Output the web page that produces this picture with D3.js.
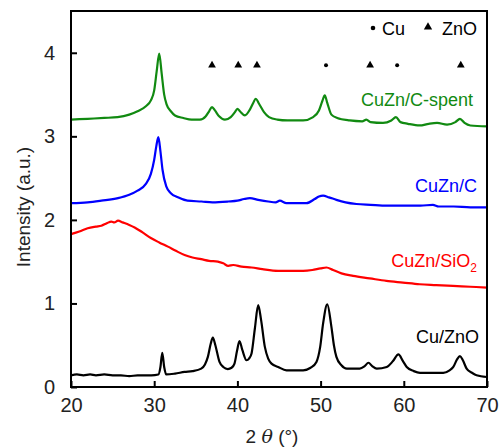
<!DOCTYPE html>
<html>
<head>
<meta charset="utf-8">
<script src="https://cdn.jsdelivr.net/npm/d3@7"></script>
<style>
  body { margin: 0; background: #fff; }
  svg text { font-family: "Liberation Sans", Arial, Helvetica, sans-serif; }
  .tick-label { font-size: 20px; fill: #222; }
  .series-label { font-size: 18px; }
</style>
</head>
<body>
<svg id="chart"></svg>
<script>
// CuZn/C-spent
const spentX = [20, 22, 24, 25.6, 27, 28, 29, 29.6, 30.0, 30.3, 30.6, 30.9, 31.2, 31.5, 32, 32.5, 33.5, 34.5, 35.5, 36.2, 36.6, 36.95, 37.3, 37.8, 38.5, 39.2, 39.7, 40.0, 40.3, 40.9, 41.5, 41.9, 42.2, 42.6, 43.2, 43.8, 44.8, 46, 47.9, 49.1, 49.8, 50.2, 50.5, 50.8, 51.3, 52, 53.5, 55.0, 55.5, 56.0, 57.5, 58.5, 59.05, 59.6, 60.5, 61.9, 63, 64, 65.2, 66.2, 66.75, 67.3, 68, 70];
const spentY = [3.20, 3.21, 3.22, 3.23, 3.26, 3.30, 3.36, 3.43, 3.55, 3.78, 3.99, 3.75, 3.50, 3.38, 3.30, 3.25, 3.22, 3.20, 3.20, 3.24, 3.30, 3.35, 3.31, 3.24, 3.20, 3.23, 3.29, 3.33, 3.30, 3.25, 3.32, 3.40, 3.45, 3.39, 3.29, 3.23, 3.20, 3.19, 3.19, 3.23, 3.31, 3.42, 3.49, 3.40, 3.26, 3.22, 3.19, 3.18, 3.20, 3.17, 3.16, 3.19, 3.23, 3.17, 3.15, 3.13, 3.15, 3.16, 3.14, 3.17, 3.21, 3.16, 3.13, 3.12];

// CuZn/C
const carbonX = [20, 22, 23.65, 25.65, 27, 28, 29, 29.6, 30.0, 30.25, 30.5, 30.75, 31.0, 31.45, 32, 32.85, 34, 35.7, 37, 38.9, 40, 40.8, 41.5, 42.5, 43.7, 44.6, 45.1, 45.9, 47, 48.3, 49.3, 49.8, 50.3, 51, 51.9, 53, 54.3, 56, 58, 60, 62, 63.5, 64.2, 66, 68, 70];
const carbonY = [2.20, 2.21, 2.23, 2.26, 2.30, 2.35, 2.43, 2.55, 2.72, 2.88, 2.99, 2.82, 2.60, 2.40, 2.32, 2.27, 2.23, 2.22, 2.21, 2.22, 2.23, 2.25, 2.26, 2.24, 2.22, 2.21, 2.23, 2.20, 2.20, 2.20, 2.25, 2.28, 2.29, 2.27, 2.24, 2.21, 2.19, 2.18, 2.17, 2.17, 2.17, 2.18, 2.16, 2.16, 2.15, 2.15];

// CuZn/SiO2
const silicaX = [20, 21, 22, 23, 23.65, 24.3, 24.85, 25.2, 25.65, 26.2, 27, 27.65, 28.6, 29.65, 30.6, 31.65, 32.6, 33.65, 34.6, 35.65, 36.6, 37.65, 38.3, 38.9, 39.5, 40.5, 41.7, 43, 44.9, 46, 47.9, 49, 50, 50.7, 51.5, 52.5, 53.9, 55.9, 57.9, 59.9, 61.9, 63.9, 65.9, 68, 70];
const silicaY = [1.83, 1.86, 1.90, 1.92, 1.93, 1.96, 1.98, 1.97, 1.99, 1.97, 1.94, 1.91, 1.85, 1.78, 1.73, 1.68, 1.63, 1.58, 1.55, 1.53, 1.51, 1.50, 1.48, 1.45, 1.46, 1.44, 1.43, 1.41, 1.39, 1.39, 1.39, 1.40, 1.42, 1.43, 1.40, 1.36, 1.33, 1.30, 1.27, 1.25, 1.23, 1.22, 1.21, 1.20, 1.19];

// Cu/ZnO
const cuznoX = [20, 20.7, 21.5, 22.3, 23, 24, 25, 26, 27, 28, 29, 29.65, 30.5, 30.75, 30.97, 31.2, 31.45, 32.5, 33.65, 34.6, 35.65, 36.1, 36.45, 36.8, 37.05, 37.35, 37.85, 38.3, 38.85, 39.3, 39.65, 39.95, 40.25, 40.6, 41.1, 41.4, 41.7, 42.1, 42.5, 42.85, 43.3, 43.7, 44.1, 44.9, 45.9, 47, 47.9, 48.8, 49.5, 49.95, 50.3, 50.8, 51.3, 51.6, 51.9, 52.5, 53.15, 54.7, 55.3, 55.75, 56.2, 56.75, 57.95, 58.7, 59.35, 59.9, 60.35, 61.2, 61.95, 63.5, 64.75, 65.5, 65.95, 66.4, 66.75, 67.1, 67.55, 68.2, 68.75, 70];
const cuznoY = [0.14, 0.15, 0.14, 0.15, 0.14, 0.15, 0.14, 0.14, 0.13, 0.14, 0.14, 0.14, 0.15, 0.24, 0.41, 0.24, 0.15, 0.16, 0.18, 0.19, 0.22, 0.27, 0.36, 0.52, 0.59, 0.50, 0.30, 0.24, 0.215, 0.23, 0.28, 0.43, 0.55, 0.44, 0.32, 0.34, 0.40, 0.70, 0.98, 0.80, 0.48, 0.34, 0.28, 0.24, 0.20, 0.20, 0.20, 0.23, 0.30, 0.48, 0.76, 0.99, 0.72, 0.50, 0.36, 0.26, 0.22, 0.22, 0.25, 0.29, 0.25, 0.22, 0.24, 0.31, 0.39, 0.31, 0.24, 0.19, 0.17, 0.17, 0.17, 0.20, 0.24, 0.33, 0.37, 0.32, 0.22, 0.17, 0.14, 0.12];

// phase markers
const cuPeaks = [50.65, 59.2];
const znoPeaks = [36.95, 40.1, 42.35, 55.95, 66.85];
const markerLevel = 3.85;

const xTicks = [20, 30, 40, 50, 60, 70];
const yTicks = [0, 1, 2, 3, 4];

const series = [
    { name: "CuZn/C-spent", xs: spentX, ys: spentY, color: "#118a11", label: [473, 106] },
    { name: "CuZn/C", xs: carbonX, ys: carbonY, color: "#0000ff", label: [477, 192] },
    { name: "CuZn/SiO2", xs: silicaX, ys: silicaY, color: "#ff0000", label: [477, 267] },
    { name: "Cu/ZnO", xs: cuznoX, ys: cuznoY, color: "#000000", label: [479, 343] }
];

const W = 499, H = 447;
const margin = { top: 11, right: 12, bottom: 60, left: 71 };
const width = W - margin.left - margin.right;
const height = H - margin.top - margin.bottom;

const svg = d3.select("#chart").attr("width", W).attr("height", H);
const g = svg.append("g").attr("transform", `translate(${margin.left},${margin.top})`);

const x = d3.scaleLinear().domain([20, 70]).range([0, width]);
const y = d3.scaleLinear().domain([0, 4.5]).range([height, 0]);

const line = d3.line()
    .x(d => x(d[0]))
    .y(d => y(d[1]))
    .curve(d3.curveMonotoneX);

// curves
series.forEach(s => {
    g.append("path")
        .datum(d3.zip(s.xs, s.ys))
        .attr("fill", "none")
        .attr("stroke", s.color)
        .attr("stroke-width", 2.2)
        .attr("stroke-linejoin", "round")
        .attr("d", line);
});

// series labels
series.forEach(s => {
    const t = svg.append("text")
        .attr("class", "series-label")
        .attr("x", s.label[0])
        .attr("y", s.label[1])
        .attr("text-anchor", "end")
        .attr("fill", s.color);
    if (s.name === "CuZn/SiO2") {
        t.append("tspan").text("CuZn/SiO");
        t.append("tspan").attr("font-size", "12px").attr("dy", 5).text("2");
    } else {
        t.text(s.name);
    }
});

// markers
const tri = d3.symbol().type(d3.symbolTriangle).size(26);
g.selectAll(".zno")
    .data(znoPeaks)
    .join("path")
    .attr("transform", d => `translate(${x(d)},${y(markerLevel)})`)
    .attr("d", tri)
    .attr("fill", "#000");
g.selectAll(".cu")
    .data(cuPeaks)
    .join("circle")
    .attr("cx", d => x(d))
    .attr("cy", y(markerLevel))
    .attr("r", 2)
    .attr("fill", "#000");

// legend
svg.append("circle").attr("cx", 373).attr("cy", 28).attr("r", 2.3).attr("fill", "#000");
svg.append("text").attr("class", "series-label").attr("x", 382).attr("y", 35).attr("fill", "#000").text("Cu");
svg.append("path").attr("transform", "translate(428,27)").attr("d", d3.symbol().type(d3.symbolTriangle).size(30)).attr("fill", "#000");
svg.append("text").attr("class", "series-label").attr("x", 442).attr("y", 35).attr("fill", "#000").text("ZnO");

// axes (ticks inward)
const xAxis = g.append("g")
    .attr("transform", `translate(0,${height})`)
    .call(d3.axisBottom(x).tickValues(xTicks).tickFormat(d3.format("d")).tickSizeInner(-6).tickSizeOuter(0).tickPadding(11));
const yAxis = g.append("g")
    .call(d3.axisLeft(y).tickValues(yTicks).tickFormat(d3.format("d")).tickSizeInner(-6).tickSizeOuter(0).tickPadding(16));
[xAxis, yAxis].forEach(a => {
    a.attr("font-size", null).attr("font-family", null);
    a.select(".domain").remove();
    a.selectAll(".tick line").attr("stroke", "#000").attr("stroke-width", 2);
    a.selectAll(".tick text").attr("class", "tick-label");
});

// frame
g.append("rect")
    .attr("width", width)
    .attr("height", height)
    .attr("fill", "none")
    .attr("stroke", "#000")
    .attr("stroke-width", 2);

// axis titles
const xt = svg.append("text")
    .attr("x", margin.left + width / 2 - 7)
    .attr("y", 443)
    .attr("text-anchor", "middle")
    .attr("font-size", "19px")
    .attr("fill", "#222");
xt.append("tspan").text("2 ");
xt.append("tspan").attr("font-style", "italic").attr("font-family", "'DejaVu Serif', serif").text("θ");
xt.append("tspan").text(" (°)");

svg.append("text")
    .attr("transform", `translate(30,${margin.top + height / 2 + 8}) rotate(-90)`)
    .attr("text-anchor", "middle")
    .attr("font-size", "19px")
    .attr("fill", "#222")
    .text("Intensity (a.u.)");
</script>
</body>
</html>
